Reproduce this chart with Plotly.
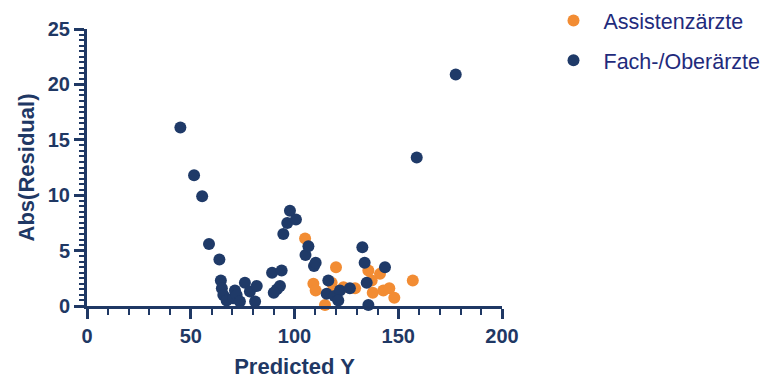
import plotly.graph_objects as go

# Residual magnitude vs. predicted value, by physician group
assist_pred = [105.1, 109.1, 110.2, 114.7, 117.9, 118.7, 120.0, 123.6, 129.2,
               135.6, 137.2, 137.7, 141.2, 142.8, 145.7, 148.1, 157.0]
assist_abs = [6.1, 2.0, 1.4, 0.1, 2.1, 1.5, 3.5, 1.7, 1.6,
              3.2, 2.3, 1.2, 2.9, 1.4, 1.6, 0.75, 2.3]

fach_pred = [45.0, 51.6, 55.5, 58.8, 63.8, 64.5, 65.0, 65.7, 67.3, 70.4, 71.3,
             72.1, 73.7, 76.1, 78.5, 81.8, 81.0, 89.2, 93.8, 93.0, 91.5, 90.0,
             94.6, 96.5, 97.8, 100.7, 105.3, 106.7, 109.4, 110.2, 115.5, 116.3,
             119.3, 121.9, 121.1, 126.7, 132.7, 133.8, 134.8, 135.6, 143.6,
             158.9, 177.7]
fach_abs = [16.1, 11.8, 9.9, 5.6, 4.2, 2.3, 1.6, 1.0, 0.5, 0.7, 1.4,
            1.0, 0.4, 2.1, 1.3, 1.8, 0.4, 3.0, 3.2, 1.8, 1.5, 1.2,
            6.5, 7.5, 8.6, 7.8, 4.6, 5.4, 3.6, 3.9, 1.1, 2.3,
            0.9, 1.4, 0.5, 1.6, 5.3, 3.9, 2.1, 0.1, 3.5,
            13.4, 20.9]

x_ticks = [0, 50, 100, 150, 200]
y_ticks = [0, 5, 10, 15, 20, 25]

NAVY = "#1f3864"
ORANGE = "#f28c33"
DOT_NAVY = "#1f3a68"
FONT = "Liberation Sans, Arial, sans-serif"

fig = go.Figure()
fig.add_trace(go.Scatter(
    x=assist_pred, y=assist_abs, mode="markers", name="Assistenzärzte",
    legendgroup="a",
    marker=dict(color=ORANGE, size=12, line=dict(width=0)),
    cliponaxis=False,
))
fig.add_trace(go.Scatter(
    x=fach_pred, y=fach_abs, mode="markers", name="Fach-/Oberärzte",
    legendgroup="f",
    marker=dict(color=DOT_NAVY, size=12, line=dict(width=0)),
    cliponaxis=False,
))

axis_common = dict(
    showgrid=False, zeroline=False, showline=True, linecolor=NAVY, linewidth=3,
    ticks="outside", ticklen=10, tickwidth=3, tickcolor=NAVY,
    tickfont=dict(family=FONT, size=20, color=NAVY, weight="bold"),
)

fig.update_xaxes(
    range=[0, 200], tickvals=x_ticks, ticktext=[str(v) for v in x_ticks],
    minor=dict(dtick=10, ticks="outside", ticklen=6, tickwidth=2, tickcolor=NAVY),
    title=dict(text="Predicted Y", standoff=14,
               font=dict(family=FONT, size=22, color=NAVY, weight="bold")),
    **axis_common,
)
fig.update_yaxes(
    range=[0, 25], tickvals=y_ticks, ticktext=[str(v) for v in y_ticks],
    minor=dict(dtick=0.5, ticks="outside", ticklen=5, tickwidth=2, tickcolor=NAVY),
    title=dict(text="Abs(Residual)", standoff=8,
               font=dict(family=FONT, size=22, color=NAVY, weight="bold")),
    **axis_common,
)

fig.update_layout(
    width=768, height=379,
    margin=dict(l=87, r=266, t=29, b=73, autoexpand=False),
    plot_bgcolor="white", paper_bgcolor="white",
    showlegend=True,
    legend=dict(
        x=1.10, y=1.105, xanchor="left", yanchor="top",
        font=dict(family=FONT, size=21.5, color="#1f2b7c"),
        itemwidth=50,
        tracegroupgap=9, bgcolor="rgba(0,0,0,0)",
    ),
)

fig.write_html("out.html")
